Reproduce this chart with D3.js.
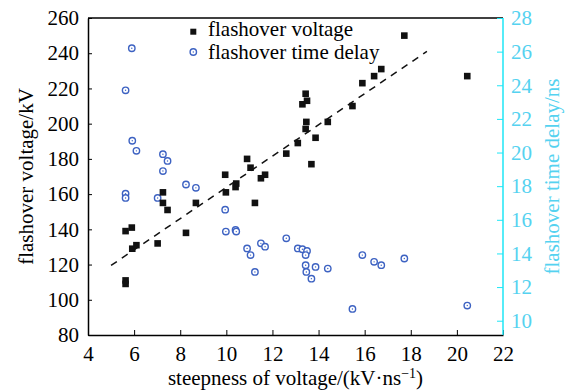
<!DOCTYPE html>
<html><head><meta charset="utf-8">
<script src="https://cdn.jsdelivr.net/npm/d3@7/dist/d3.min.js"></script>
<style>body{margin:0;background:#fff}svg{display:block}text{font-family:"Liberation Serif","Times New Roman",serif}</style>
</head><body><svg id="c" width="576" height="390"></svg>
<script>
// steepness of voltage (kV/ns), shared by both series
const steepness = [5.63,5.63,5.63,5.9,5.92,6.1,7.02,7.25,7.25,7.45,8.25,8.68,9.95,9.98,10.4,10.43,10.9,11.05,11.24,11.5,11.68,12.6,13.1,13.3,13.44,13.5,13.47,13.44,13.69,13.87,14.4,15.47,15.9,16.41,16.72,17.72,20.45];
const voltage   = [139,111,109,141,129,131,132,161,155,151,138,155,171,161,164,166,180,175,155,169,171,183,189,211,217,213,201,197,177,192,201,210,223,227,231,250,227];
const timeDelay = [23.7,17.55,17.3,26.2,20.7,20.1,17.3,19.9,18.9,19.5,18.1,17.9,16.6,15.3,15.4,15.3,14.3,13.9,12.9,14.6,14.4,14.9,14.3,14.25,13.3,14.15,12.9,13.9,12.5,13.2,13.1,10.7,13.9,13.5,13.3,13.7,10.9];
const fitX = [5, 18.7];
const fitY = [119.5, 241];
const xTicks = [4,6,8,10,12,14,16,18,20,22];
const yTicks = [80,100,120,140,160,180,200,220,240,260];
const y2Ticks = [10,12,14,16,18,20,22,24,26,28];
const legendLabels = ["flashover voltage","flashover time delay"];

const svg = d3.select("#c");
const L=88,R=503,T=18,B=335;
const x = d3.scaleLinear().domain([4,22]).range([L,R]);
const y = d3.scaleLinear().domain([80,260]).range([B,T]);
const y2 = d3.scaleLinear().domain([9.15,28]).range([B,T]);
const cyan="#1ee6f6", cyanText="#55d2f0", blue="#3d62c2";

// top frame
svg.append("line").attr("x1",L).attr("x2",R).attr("y1",T).attr("y2",T).attr("stroke","#000").attr("stroke-width",1.5);

const fs = "21px";
const gx = svg.append("g").attr("transform",`translate(0,${B})`)
  .call(d3.axisBottom(x).tickValues(xTicks).tickSize(-5).tickPadding(11).tickSizeOuter(0));
gx.selectAll("text").attr("font-size",fs).attr("fill","#000").attr("font-family","Liberation Serif");
gx.select(".domain").attr("stroke-width",1.5);

const gy = svg.append("g").attr("transform",`translate(${L},0)`)
  .call(d3.axisLeft(y).tickValues(yTicks).tickSize(-4).tickPadding(9).tickSizeOuter(0));
gy.selectAll("text").attr("font-size",fs).attr("fill","#000").attr("font-family","Liberation Serif");
gy.select(".domain").attr("stroke-width",1.5);

const gy2 = svg.append("g").attr("transform",`translate(${R},0)`)
  .call(d3.axisRight(y2).tickValues(y2Ticks).tickSize(-6).tickPadding(8).tickSizeOuter(0));
gy2.selectAll("text").attr("font-size",fs).attr("fill",cyanText).attr("font-family","Liberation Serif");
gy2.selectAll("line").attr("stroke",cyan);
gy2.select(".domain").attr("stroke",cyan).attr("stroke-width",1.5).attr("d",`M0,${T}V${B}`);

// axis titles
svg.append("text").attr("x",(L+R)/2).attr("y",385).attr("text-anchor","middle").attr("font-size",fs)
  .html('steepness of voltage/(kV·ns<tspan dy="-7" font-size="14px">−1</tspan><tspan dy="7">)</tspan>');
svg.append("text").attr("transform",`translate(33,${(T+B)/2}) rotate(-90)`).attr("text-anchor","middle")
  .attr("font-size",fs).text("flashover voltage/kV");
svg.append("text").attr("transform",`translate(559,${(T+B)/2}) rotate(-90)`).attr("text-anchor","middle")
  .attr("font-size",fs).attr("fill",cyanText).text("flashover time delay/ns");

// fit line
svg.append("line").attr("x1",x(fitX[0])).attr("y1",y(fitY[0])).attr("x2",x(fitX[1])).attr("y2",y(fitY[1]))
  .attr("stroke","#111").attr("stroke-width",1.5).attr("stroke-dasharray","7,6");

// time delay circles
const circ = svg.append("g");
steepness.forEach((s,i)=>{
  circ.append("circle").attr("cx",x(s)).attr("cy",y2(timeDelay[i])).attr("r",3.2)
    .attr("fill","#fff").attr("stroke",blue).attr("stroke-width",1.4);
  circ.append("circle").attr("cx",x(s)).attr("cy",y2(timeDelay[i])).attr("r",0.7).attr("fill",blue);
});
// voltage squares
svg.append("g").selectAll("rect").data(steepness).join("rect")
  .attr("x",(d)=>x(d)-3.3).attr("y",(d,i)=>y(voltage[i])-3.3).attr("width",6.6).attr("height",6.6).attr("fill","#111");

// legend
const lg = svg.append("g");
lg.append("rect").attr("x",193.3-3).attr("y",31.7-3).attr("width",6).attr("height",6).attr("fill","#111");
lg.append("circle").attr("cx",193.3).attr("cy",52).attr("r",3.2).attr("fill","#fff").attr("stroke",blue).attr("stroke-width",1.4);
lg.append("circle").attr("cx",193.3).attr("cy",52).attr("r",0.7).attr("fill",blue);
lg.append("text").attr("x",208).attr("y",36).attr("font-size",fs).text(legendLabels[0]);
lg.append("text").attr("x",208).attr("y",59).attr("font-size",fs).text(legendLabels[1]);
</script></body></html>
